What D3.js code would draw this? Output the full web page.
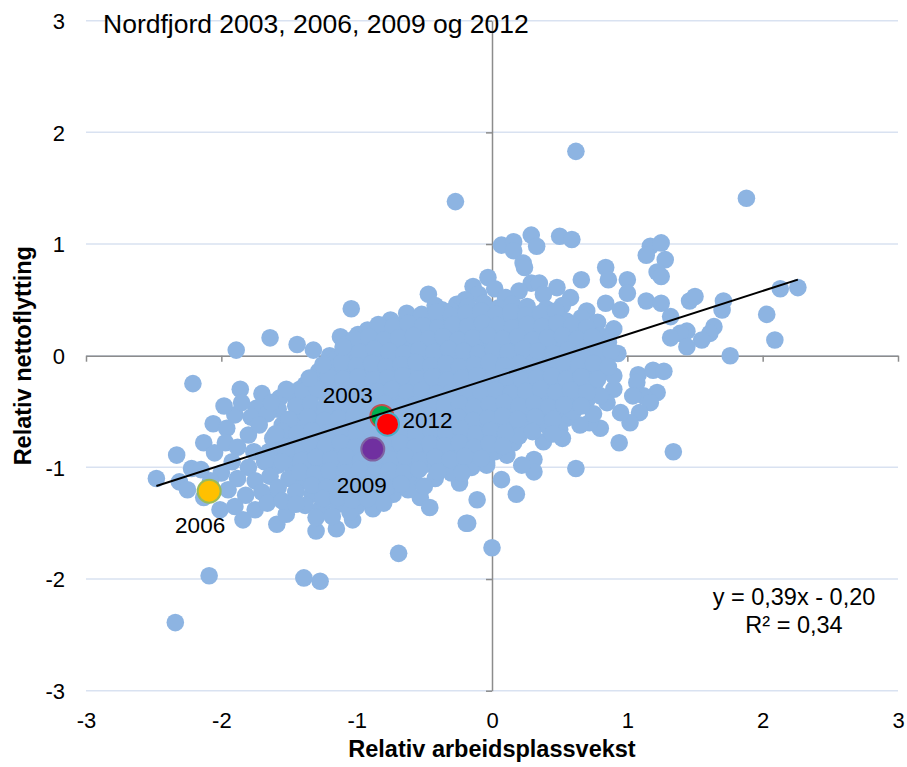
<!DOCTYPE html>
<html>
<head>
<meta charset="utf-8">
<script src="https://cdn.jsdelivr.net/npm/d3@7"></script>
<style>
  html, body { margin: 0; padding: 0; background: #ffffff; }
  svg { display: block; font-family: "Liberation Sans", Arial, sans-serif; }
</style>
</head>
<body>
<svg id="chart" width="907" height="767"></svg>
<script>
// ---------------- DATA ----------------
const chartTitle = "Nordfjord 2003, 2006, 2009 og 2012";
const xAxisTitle = "Relativ arbeidsplassvekst";
const yAxisTitle = "Relativ nettoflytting";
const xTicks = [-3, -2, -1, 0, 1, 2, 3];
const yTicks = [-3, -2, -1, 0, 1, 2, 3];

// all municipalities/years (x = relativ arbeidsplassvekst, y = relativ nettoflytting)
const scatterPoints = [
  [0.62,1.83],[1.88,1.41],[-0.27,1.38],
  [0.07,0.99],[0.16,1.02],[0.16,0.94],[0.29,1.08],[0.33,0.98],[0.50,1.07],[0.59,1.04],[0.23,0.83],[0.24,0.79],
  [0.29,0.65],[0.35,0.65],[-0.03,0.70],[0.48,0.61],[0.66,0.68],[0.58,0.52],[0.84,0.79],[0.86,0.68],[1.00,0.68],
  [1.00,0.56],[1.17,0.98],[1.25,1.01],[1.14,0.90],[1.28,0.86],[1.22,0.75],[1.25,0.71],[0.84,0.47],[0.95,0.41],
  [1.14,0.49],[1.25,0.47],[1.32,0.35],[1.46,0.49],[1.50,0.53],[1.71,0.49],[1.70,0.41],[1.64,0.26],[1.61,0.20],
  [1.55,0.14],[1.44,0.22],[1.39,0.20],[1.44,0.08],[1.32,0.16],[2.03,0.37],[2.09,0.14],[2.13,0.60],[2.26,0.61],
  [1.76,0.00],[1.34,-0.86],[0.94,-0.78],[0.62,-1.01],
  [1.08,-0.17],[1.19,-0.13],[1.27,-0.14],[1.07,-0.24],[1.22,-0.33],[1.12,-0.36],[1.17,-0.42],[1.04,-0.36],
  [1.09,-0.51],[1.02,-0.60],[0.95,-0.51],[0.90,-0.30],[0.85,-0.42],[0.80,-0.65],[0.72,-0.60],[0.65,-0.62],
  [0.55,-0.56],[0.63,-0.39],
  [0.38,-0.77],[0.44,-0.69],[0.31,-0.93],[0.31,-1.04],[0.22,-0.98],[0.11,-0.89],[0.16,-0.78],[0.07,-1.11],
  [0.18,-1.24],[-0.04,-0.96],[0.28,-0.65],
  [0.00,-1.72],[-0.18,-1.50],[-0.69,-1.77],[-1.27,-2.02],[-1.39,-1.99],[-2.09,-1.97],[-2.34,-2.39],
  [-1.04,0.42],[-0.47,0.55],[-1.64,0.16],[-1.89,0.05],[-1.44,0.10],[-2.21,-0.25],[-1.86,-0.30],[-1.70,-0.34],
  [-2.06,-0.61],[-2.13,-0.78],[-2.33,-0.89],[-2.48,-1.10],[-2.22,-1.01],[-2.31,-1.13],[-2.13,-1.27],[-2.01,-1.38],
  [-2.05,-0.87],[-1.90,-0.53],[-1.96,-0.65],[-1.97,-0.78],[-1.80,-0.71],[-1.84,-1.47],[-1.60,-1.26],[-1.59,-1.51],
  [-1.75,-1.38],[-1.52,-1.42],[-1.30,-1.57],[-1.15,-1.55],[-1.03,-1.47],[-0.88,-1.37],[-0.73,-1.24],[-0.58,-1.11],
  [-0.53,-1.27],[-0.46,-1.36],[-0.19,-1.50],[-0.11,-1.29],[-0.24,-1.14],[-0.04,-0.98],
  [-1.20,0.00],[-1.12,0.17],[-0.99,0.19],[-0.83,0.20],[-0.63,0.38],[-0.56,0.29],[-0.37,0.41],[-0.26,0.46],
  [-0.14,0.62],[-1.42,-0.30],[-1.57,-0.38],[-1.74,-0.47],[-1.58,-0.48],[-1.48,-0.60],[-1.27,-0.51],
  // dense core
  [-0.10,0.55],[0.02,0.60],[0.10,0.52],[0.20,0.58],[0.38,0.55],[-0.20,0.50],
  [-0.42,0.45],[-0.30,0.40],[-0.18,0.44],[-0.06,0.47],[0.05,0.43],[0.15,0.46],[0.26,0.44],[0.40,0.42],[0.52,0.45],[0.70,0.40],
  [-0.75,0.32],[-0.66,0.28],[-0.48,0.33],[-0.36,0.30],[-0.25,0.34],[-0.13,0.31],[-0.02,0.35],[0.09,0.33],[0.20,0.34],
  [0.31,0.30],[0.43,0.33],[0.55,0.31],[0.66,0.34],[0.78,0.30],
  [-0.92,0.23],[-0.78,0.24],[-0.70,0.18],[-0.60,0.22],[-0.50,0.20],[-0.40,0.23],[-0.30,0.19],[-0.20,0.22],[-0.09,0.20],
  [0.02,0.23],[0.13,0.21],[0.24,0.22],[0.35,0.19],[0.46,0.23],[0.57,0.20],[0.68,0.22],[0.80,0.18],[0.90,0.24],
  [-1.08,0.10],[-0.96,0.08],[-0.86,0.12],[-0.75,0.09],[-0.64,0.11],[-0.53,0.08],[-0.43,0.12],[-0.32,0.09],[-0.22,0.11],
  [-0.11,0.08],[0.00,0.12],[0.10,0.09],[0.21,0.11],[0.32,0.08],[0.43,0.12],[0.54,0.09],[0.65,0.11],[0.76,0.07],[0.86,0.12],
  [-1.15,-0.02],[-1.03,0.00],[-0.92,-0.03],[-0.81,0.01],[-0.70,-0.02],[-0.59,0.00],[-0.48,-0.03],[-0.37,0.01],[-0.27,-0.02],
  [-0.16,0.00],[-0.05,-0.03],[0.06,0.01],[0.17,-0.02],[0.28,0.00],[0.39,-0.03],[0.50,0.01],[0.61,-0.02],[0.72,0.00],
  [0.83,-0.03],[0.93,0.02],
  [-1.28,-0.14],[-1.17,-0.12],[-1.06,-0.15],[-0.95,-0.13],[-0.84,-0.16],[-0.73,-0.12],[-0.62,-0.15],[-0.51,-0.13],
  [-0.40,-0.16],[-0.30,-0.12],[-0.19,-0.15],[-0.08,-0.13],[0.03,-0.16],[0.14,-0.12],[0.25,-0.15],[0.36,-0.13],
  [0.47,-0.16],[0.58,-0.12],[0.69,-0.15],[0.80,-0.13],[0.90,-0.18],
  [-1.38,-0.26],[-1.25,-0.24],[-1.13,-0.27],[-1.01,-0.25],[-0.90,-0.28],[-0.79,-0.24],[-0.68,-0.27],[-0.57,-0.25],
  [-0.46,-0.28],[-0.35,-0.24],[-0.24,-0.27],[-0.13,-0.25],[-0.02,-0.28],[0.09,-0.24],[0.20,-0.27],[0.31,-0.25],
  [0.42,-0.28],[0.53,-0.24],[0.64,-0.27],[0.76,-0.25],
  [-1.45,-0.38],[-1.34,-0.36],[-1.22,-0.39],[-1.11,-0.37],[-1.00,-0.40],[-0.89,-0.36],[-0.78,-0.39],[-0.67,-0.37],
  [-0.56,-0.40],[-0.45,-0.36],[-0.34,-0.39],[-0.23,-0.37],[-0.12,-0.40],[-0.01,-0.36],[0.10,-0.39],[0.21,-0.37],
  [0.32,-0.40],[0.43,-0.36],[0.54,-0.39],[0.70,-0.40],[0.80,-0.36],
  [-1.40,-0.52],[-1.18,-0.50],[-1.07,-0.48],[-0.96,-0.51],[-0.85,-0.49],[-0.74,-0.52],[-0.63,-0.48],[-0.52,-0.51],
  [-0.41,-0.49],[-0.30,-0.52],[-0.19,-0.48],[-0.08,-0.51],[0.03,-0.49],[0.14,-0.52],[0.25,-0.48],[0.36,-0.51],
  [0.47,-0.49],[0.60,-0.50],[0.75,-0.52],
  [-1.55,-0.62],[-1.42,-0.64],[-1.31,-0.61],[-1.20,-0.63],[-1.09,-0.60],[-0.98,-0.64],[-0.87,-0.61],[-0.76,-0.63],
  [-0.65,-0.60],[-0.54,-0.64],[-0.43,-0.61],[-0.32,-0.63],[-0.21,-0.60],[-0.10,-0.64],[0.01,-0.61],[0.12,-0.63],
  [0.22,-0.60],[0.40,-0.62],[0.50,-0.66],
  [-1.62,-0.74],[-1.50,-0.76],[-1.39,-0.73],[-1.28,-0.75],[-1.17,-0.72],[-1.06,-0.76],[-0.95,-0.73],[-0.84,-0.75],
  [-0.73,-0.72],[-0.62,-0.76],[-0.51,-0.73],[-0.40,-0.75],[-0.29,-0.72],[-0.18,-0.76],[-0.07,-0.73],[0.04,-0.75],
  [0.20,-0.72],[0.52,-0.74],
  [-1.65,-0.86],[-1.54,-0.88],[-1.43,-0.85],[-1.32,-0.87],[-1.21,-0.84],[-1.10,-0.88],[-0.99,-0.85],[-0.88,-0.87],
  [-0.77,-0.84],[-0.66,-0.88],[-0.55,-0.85],[-0.44,-0.87],[-0.33,-0.84],[-0.22,-0.88],[-0.11,-0.85],[0.02,-0.86],
  [-1.58,-0.98],[-1.47,-1.00],[-1.36,-0.97],[-1.25,-0.99],[-1.14,-0.96],[-1.03,-1.00],[-0.92,-0.97],[-0.81,-0.99],
  [-0.70,-0.96],[-0.59,-1.00],[-0.48,-0.97],[-0.37,-0.99],[-0.26,-0.96],[-0.15,-1.00],
  [-1.50,-1.10],[-1.39,-1.12],[-1.28,-1.09],[-1.17,-1.11],[-1.06,-1.08],[-0.95,-1.12],[-0.84,-1.09],[-0.73,-1.11],
  [-0.62,-1.08],[-0.42,-1.10],[-0.30,-1.05],
  [-1.45,-1.22],[-1.33,-1.24],[-1.22,-1.21],[-1.11,-1.23],[-1.00,-1.20],[-0.89,-1.24],[-0.78,-1.21],[-0.62,-1.20],
  [-1.38,-1.34],[-1.26,-1.36],[-1.14,-1.33],[-1.00,-1.35],[-0.80,-1.32],
  [-1.30,-1.45],[-1.18,-1.44],[-1.05,-1.40],
  // dense core, in-between rows
  [-0.52,0.37],[-0.41,0.39],[-0.30,0.36],[-0.19,0.38],[-0.08,0.40],[0.03,0.37],[0.14,0.39],[0.25,0.36],[0.36,0.38],[0.47,0.40],
  [-0.84,0.28],[-0.73,0.26],[-0.62,0.29],[-0.51,0.27],[-0.40,0.25],[-0.29,0.28],[-0.18,0.26],[-0.07,0.29],[0.04,0.27],
  [0.15,0.25],[0.26,0.28],[0.37,0.26],[0.48,0.29],[0.59,0.27],[0.70,0.25],
  [-1.02,0.15],[-0.91,0.17],[-0.80,0.14],[-0.69,0.16],[-0.58,0.18],[-0.47,0.15],[-0.36,0.17],[-0.25,0.14],[-0.14,0.16],
  [-0.03,0.18],[0.08,0.15],[0.19,0.17],[0.30,0.14],[0.41,0.16],[0.52,0.18],[0.63,0.15],[0.74,0.17],
  [-1.10,0.05],[-0.98,0.03],[-0.87,0.06],[-0.76,0.04],[-0.65,0.02],[-0.54,0.05],[-0.43,0.03],[-0.32,0.06],[-0.21,0.04],
  [-0.10,0.02],[0.01,0.05],[0.12,0.03],[0.23,0.06],[0.34,0.04],[0.45,0.02],[0.56,0.05],[0.67,0.03],[0.78,0.06],[0.88,0.04],
  [-1.22,-0.08],[-1.11,-0.06],[-1.00,-0.09],[-0.89,-0.07],[-0.78,-0.10],[-0.67,-0.08],[-0.56,-0.06],[-0.45,-0.09],
  [-0.34,-0.07],[-0.24,-0.10],[-0.13,-0.08],[-0.02,-0.06],[0.09,-0.09],[0.20,-0.07],[0.31,-0.10],[0.42,-0.08],
  [0.53,-0.06],[0.64,-0.09],[0.75,-0.07],[0.86,-0.10],
  [-1.32,-0.20],[-1.21,-0.18],[-1.10,-0.21],[-0.99,-0.19],[-0.88,-0.22],[-0.77,-0.20],[-0.66,-0.18],[-0.55,-0.21],
  [-0.44,-0.19],[-0.33,-0.22],[-0.22,-0.20],[-0.11,-0.18],[0.00,-0.21],[0.11,-0.19],[0.22,-0.22],[0.33,-0.20],
  [0.44,-0.18],[0.55,-0.21],[0.66,-0.19],[0.78,-0.21],
  [-1.40,-0.32],[-1.29,-0.30],[-1.18,-0.33],[-1.07,-0.31],[-0.96,-0.34],[-0.85,-0.32],[-0.74,-0.30],[-0.63,-0.33],
  [-0.52,-0.31],[-0.41,-0.34],[-0.30,-0.32],[-0.19,-0.30],[-0.08,-0.33],[0.03,-0.31],[0.14,-0.34],[0.25,-0.32],
  [0.36,-0.30],[0.47,-0.33],[0.58,-0.31],[0.70,-0.33],
  [-1.45,-0.45],[-1.34,-0.43],[-1.23,-0.46],[-1.12,-0.44],[-1.01,-0.42],[-0.90,-0.45],[-0.79,-0.43],[-0.68,-0.46],
  [-0.57,-0.44],[-0.46,-0.42],[-0.35,-0.45],[-0.24,-0.43],[-0.13,-0.46],[-0.02,-0.44],[0.09,-0.42],[0.20,-0.45],
  [0.31,-0.43],[0.42,-0.46],[0.53,-0.44],[0.66,-0.45],
  [-1.50,-0.57],[-1.36,-0.55],[-1.24,-0.58],[-1.13,-0.56],[-1.02,-0.54],[-0.91,-0.57],[-0.80,-0.55],[-0.69,-0.58],
  [-0.58,-0.56],[-0.47,-0.54],[-0.36,-0.57],[-0.25,-0.55],[-0.14,-0.58],[-0.03,-0.56],[0.08,-0.54],[0.19,-0.57],
  [0.32,-0.55],[0.45,-0.57],
  [-1.55,-0.68],[-1.44,-0.70],[-1.33,-0.67],[-1.22,-0.69],[-1.11,-0.66],[-1.00,-0.70],[-0.89,-0.67],[-0.78,-0.69],
  [-0.67,-0.66],[-0.56,-0.70],[-0.45,-0.67],[-0.34,-0.69],[-0.23,-0.66],[-0.12,-0.70],[-0.01,-0.67],[0.10,-0.69],
  [0.30,-0.68],[0.45,-0.70],
  [-1.56,-0.80],[-1.45,-0.82],[-1.34,-0.79],[-1.23,-0.81],[-1.12,-0.78],[-1.01,-0.82],[-0.90,-0.79],[-0.79,-0.81],
  [-0.68,-0.78],[-0.57,-0.82],[-0.46,-0.79],[-0.35,-0.81],[-0.24,-0.78],[-0.13,-0.82],[-0.02,-0.79],[0.08,-0.81],
  [-1.52,-0.92],[-1.41,-0.94],[-1.30,-0.91],[-1.19,-0.93],[-1.08,-0.90],[-0.97,-0.94],[-0.86,-0.91],[-0.75,-0.93],
  [-0.64,-0.90],[-0.53,-0.94],[-0.42,-0.91],[-0.31,-0.93],[-0.20,-0.90],[-0.08,-0.92],
  [-1.42,-1.04],[-1.31,-1.06],[-1.20,-1.03],[-1.09,-1.05],[-0.98,-1.02],[-0.87,-1.06],[-0.76,-1.03],[-0.65,-1.05],
  [-0.54,-1.02],[-0.40,-1.04],[-0.22,-1.05],
  [-1.33,-1.16],[-1.22,-1.18],[-1.11,-1.15],[-1.00,-1.17],[-0.89,-1.14],[-0.78,-1.18],[-0.67,-1.15],[-0.50,-1.17],
  [-1.25,-1.28],[-1.14,-1.27],[-1.03,-1.29],[-0.92,-1.28],
  // left part
  [-1.98,-0.45],[-1.85,-0.42],[-1.78,-0.55],[-1.66,-0.52],[-1.72,-0.62],[-1.60,-0.70],[-1.88,-0.82],[-1.76,-0.86],
  [-1.68,-0.95],[-1.80,-1.00],[-1.92,-0.95],[-2.00,-1.05],[-1.88,-1.10],[-1.75,-1.12],[-1.64,-1.08],[-1.95,-1.20],
  [-1.82,-1.25],[-1.70,-1.22],[-1.58,-1.18],[-2.08,-1.12],[-1.90,-1.35],[-1.66,-1.32],[-1.55,-1.30],[-1.45,-1.33],
  [-1.52,-0.85],[-1.55,-0.95],[-1.63,-0.42],[-1.52,-0.30],[-1.35,-0.20],[-1.25,-0.08],[-1.32,0.05],[-1.10,0.08],
  [-2.15,-1.02],[-2.25,-1.20]
];

// highlighted Nordfjord years
const highlightYears = ["2003", "2006", "2009", "2012"];
const highlightX = [-0.814, -2.090, -0.881, -0.772];
const highlightY = [-0.544, -1.213, -0.836, -0.613];
const highlightFill = ["#00B050", "#FFC000", "#7030A0", "#FF0000"];
const highlightStroke = ["#C0504D", "#9BBB59", "#8064A2", "#4BACC6"];

// linear trend
const trendSlope = 0.39;
const trendIntercept = -0.20;
const trendLabel = ["y = 0,39x - 0,20", "R² = 0,34"];

// ---------------- DRAW ----------------
const svg = d3.select("#chart");
const plot = { left: 86, right: 898, top: 20.7, bottom: 690.7 };

const x = d3.scaleLinear().domain([-3, 3]).range([plot.left, plot.right]);
const y = d3.scaleLinear().domain([-3, 3]).range([plot.bottom, plot.top]);

// gridlines
svg.append("g")
  .selectAll("line")
  .data(yTicks)
  .join("line")
  .attr("x1", plot.left).attr("x2", plot.right)
  .attr("y1", d => y(d)).attr("y2", d => y(d))
  .attr("stroke", "#D9E2F1").attr("stroke-width", 1.5);

// axes crossing at 0
const axisColor = "#8C8C8C";
const xAxis = svg.append("g")
  .attr("transform", `translate(0,${y(0)})`)
  .call(d3.axisBottom(x).tickValues(xTicks).tickSize(6).tickSizeOuter(0).tickFormat(() => ""));
const yAxis = svg.append("g")
  .attr("transform", `translate(${x(0)},0)`)
  .call(d3.axisLeft(y).tickValues(yTicks).tickSize(6).tickSizeOuter(0).tickFormat(() => ""));
[xAxis, yAxis].forEach(g => {
  g.selectAll("path.domain").attr("stroke", axisColor).attr("stroke-width", 1.5);
  g.selectAll(".tick line").attr("stroke", axisColor).attr("stroke-width", 1.5);
});

// tick labels at chart edges
svg.append("g")
  .attr("transform", `translate(0,${plot.bottom})`)
  .call(d3.axisBottom(x).tickValues(xTicks).tickSize(0).tickPadding(0).tickFormat(d => String(d)))
  .call(g => g.select(".domain").remove())
  .call(g => g.selectAll("text")
    .attr("y", 37).attr("dy", null)
    .attr("fill", "#000").style("font-size", "22px")
    .style("font-family", "'Liberation Sans', Arial, sans-serif"));

svg.append("g")
  .attr("transform", `translate(${plot.left},0)`)
  .call(d3.axisLeft(y).tickValues(yTicks).tickSize(0).tickPadding(0).tickFormat(d => String(d)))
  .call(g => g.select(".domain").remove())
  .call(g => g.selectAll("text")
    .attr("x", -21).attr("dy", "0.36em")
    .attr("fill", "#000").style("font-size", "22px")
    .style("font-family", "'Liberation Sans', Arial, sans-serif"));

// scatter points
svg.append("g")
  .selectAll("circle")
  .data(scatterPoints)
  .join("circle")
  .attr("cx", d => x(d[0]))
  .attr("cy", d => y(d[1]))
  .attr("r", 8.8)
  .attr("fill", "#8DB4E2");

// highlighted points
const hl = highlightYears.map((yr, i) => ({
  year: yr, x: highlightX[i], y: highlightY[i], fill: highlightFill[i], stroke: highlightStroke[i]
}));
svg.append("g")
  .selectAll("circle")
  .data(hl)
  .join("circle")
  .attr("cx", d => x(d.x))
  .attr("cy", d => y(d.y))
  .attr("r", 11.5)
  .attr("fill", d => d.fill)
  .attr("stroke", d => d.stroke)
  .attr("stroke-width", 2);

// trendline
const xExt = d3.extent(scatterPoints, d => d[0]);
svg.append("line")
  .attr("x1", x(xExt[0])).attr("y1", y(trendSlope * xExt[0] + trendIntercept))
  .attr("x2", x(xExt[1])).attr("y2", y(trendSlope * xExt[1] + trendIntercept))
  .attr("stroke", "#000").attr("stroke-width", 2);

// year labels
const labelOffset = { "2003": [-34, -22], "2006": [-9, 34], "2009": [-11, 36], "2012": [40, -4] };
svg.append("g")
  .selectAll("text")
  .data(hl)
  .join("text")
  .attr("x", d => x(d.x) + labelOffset[d.year][0])
  .attr("y", d => y(d.y) + labelOffset[d.year][1])
  .attr("dy", "0.36em")
  .attr("text-anchor", "middle")
  .style("font-size", "22.5px")
  .text(d => d.year);

// title
svg.append("text")
  .attr("x", 103).attr("y", 33)
  .style("font-size", "26.5px")
  .text(chartTitle);

// trend equation
svg.append("g")
  .selectAll("text")
  .data(trendLabel)
  .join("text")
  .attr("x", 794)
  .attr("y", (d, i) => 605 + i * 28)
  .attr("text-anchor", "middle")
  .style("font-size", "23.5px")
  .text(d => d);

// axis titles
svg.append("text")
  .attr("x", x(0)).attr("y", 757)
  .attr("text-anchor", "middle")
  .style("font-size", "23.5px").style("font-weight", "bold")
  .text(xAxisTitle);

svg.append("text")
  .attr("transform", `translate(31,${y(0)}) rotate(-90)`)
  .attr("text-anchor", "middle")
  .style("font-size", "23.5px").style("font-weight", "bold")
  .text(yAxisTitle);
</script>
</body>
</html>
